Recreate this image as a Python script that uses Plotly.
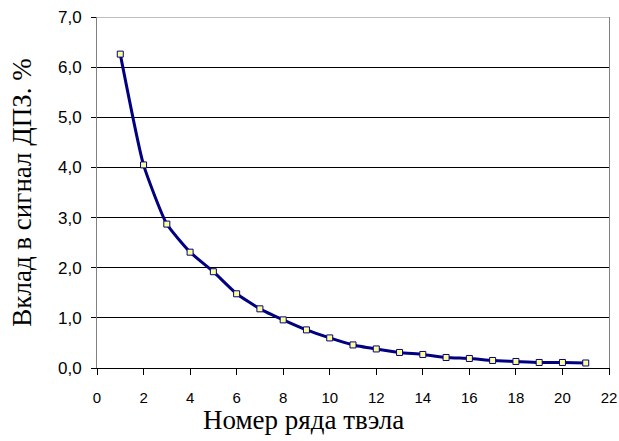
import plotly.graph_objects as go

rows = list(range(1, 22))
contrib = [6.26, 4.05, 2.87, 2.31, 1.92, 1.48, 1.18, 0.96, 0.76, 0.60, 0.46,
           0.38, 0.31, 0.27, 0.21, 0.19, 0.15, 0.13, 0.11, 0.11, 0.10]
x_ticks = list(range(0, 23, 2))
y_ticks = [0, 1, 2, 3, 4, 5, 6, 7]
x_title = "Номер ряда твэла"
y_title = "Вклад в сигнал ДПЗ. %"

serif = "Liberation Serif, Times New Roman, serif"
sans = "Liberation Sans, Arial, sans-serif"

fig = go.Figure()
fig.add_trace(go.Scatter(
    x=rows, y=contrib, mode="lines+markers",
    line=dict(color="#000080", width=3, shape="spline", smoothing=0.5),
    marker=dict(symbol="square", size=6, color="#FFFF99",
                line=dict(color="#000080", width=1)),
    showlegend=False,
))

fig.update_layout(
    width=619, height=441,
    margin=dict(l=97, r=10, t=17, b=73),
    paper_bgcolor="white", plot_bgcolor="white",
    separators=", ",
    font=dict(family=sans, size=16, color="black"),
    xaxis=dict(
        range=[0, 22], tickvals=x_ticks, ticktext=[str(v) for v in x_ticks],
        showgrid=False, zeroline=False, automargin=False,
        showline=True, linecolor="black", linewidth=1,
        ticks="outside", ticklen=6, tickcolor="black",
        ticklabelstandoff=10,
        tickfont=dict(size=15),
    ),
    yaxis=dict(
        range=[0, 7], tickvals=y_ticks, tickformat=".1f",
        showgrid=True, gridcolor="black", gridwidth=1, zeroline=False,
        automargin=False,
        showline=True, linecolor="#808080", linewidth=1, mirror=True,
        ticks="outside", ticklen=5, tickcolor="black",
        ticklabelstandoff=6,
        tickfont=dict(size=17),
        title=dict(text=y_title, font=dict(family=serif, size=27), standoff=18),
    ),
    shapes=[dict(type="line", xref="paper", yref="y", x0=0, x1=1, y0=7, y1=7,
                 line=dict(color="#808080", width=1), layer="above")],
    annotations=[dict(text=x_title, xref="paper", yref="paper", x=0.403, y=0,
                      yshift=-52, xanchor="center", yanchor="middle",
                      showarrow=False, font=dict(family=serif, size=27))],
)

fig.write_html("out.html", config={"displayModeBar": False},
               post_script="document.body.style.margin='0';document.body.style.padding='0';")
